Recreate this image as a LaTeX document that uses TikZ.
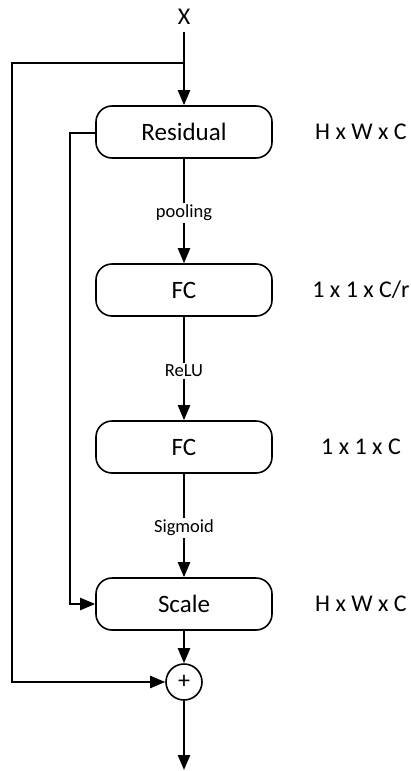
\documentclass[tikz,border=0pt]{standalone}
\usepackage{fontspec}
\setmainfont{Carlito}
\usetikzlibrary{arrows.meta}
\begin{document}
\begin{tikzpicture}[x=1pt,y=-1pt,
  block/.style={draw, line width=1.6pt, rounded corners=16pt, minimum width=176pt, minimum height=52pt, inner sep=0pt, font=\fontsize{25}{29}\selectfont},
  dimlabel/.style={font=\fontsize{24}{28}\selectfont, inner sep=0pt},
  oplabel/.style={fill=white, inner sep=2pt, font=\fontsize{18.5}{21}\selectfont},
  sumnode/.style={draw, circle, line width=1.6pt, minimum size=36pt, inner sep=0pt, font=\fontsize{24}{26}\selectfont},
  link/.style={line width=2.3pt, -{Triangle[length=15pt,width=12pt]}}
]
\useasboundingbox (0,0) rectangle (410,771);

% input and main path
\node[dimlabel] (x) at (184,17) {X};
\coordinate (xs) at (184,32);
\coordinate (split) at (184,63);

\node[block] (res) at (184,132) {Residual};
\node[block] (fc1) at (184,290) {FC};
\node[block] (fc2) at (184,447) {FC};
\node[block] (scale) at (184,604) {Scale};
\node[sumnode] (sum) at (184,682) {+};
\coordinate (out) at (184,770);

% tensor shapes
\node[dimlabel] at (361,132) {H x W x C};
\node[dimlabel] at (361,290) {1 x 1 x C/r};
\node[dimlabel] at (361,447) {1 x 1 x C};
\node[dimlabel] at (361,604) {H x W x C};

% connectors
\draw[link] (xs) -- (res.north);
\draw[link] (res.south) -- node[oplabel, pos=0.52] {pooling} (fc1.north);
\draw[link] (fc1.south) -- node[oplabel, pos=0.52] {ReLU} (fc2.north);
\draw[link] (fc2.south) -- node[oplabel, pos=0.52] {Sigmoid} (scale.north);
\draw[link] (scale.south) -- (sum.north);
\draw[link] (sum.south) -- (out);

% residual branch into the scale step
\coordinate (ra) at (70,133);
\draw[link] (res.west |- ra) -- (ra) |- (scale.west);

% identity shortcut into the sum
\coordinate (sa) at (12,63);
\draw[link] (split) -- (sa) |- (sum.west);
\end{tikzpicture}
\end{document}
